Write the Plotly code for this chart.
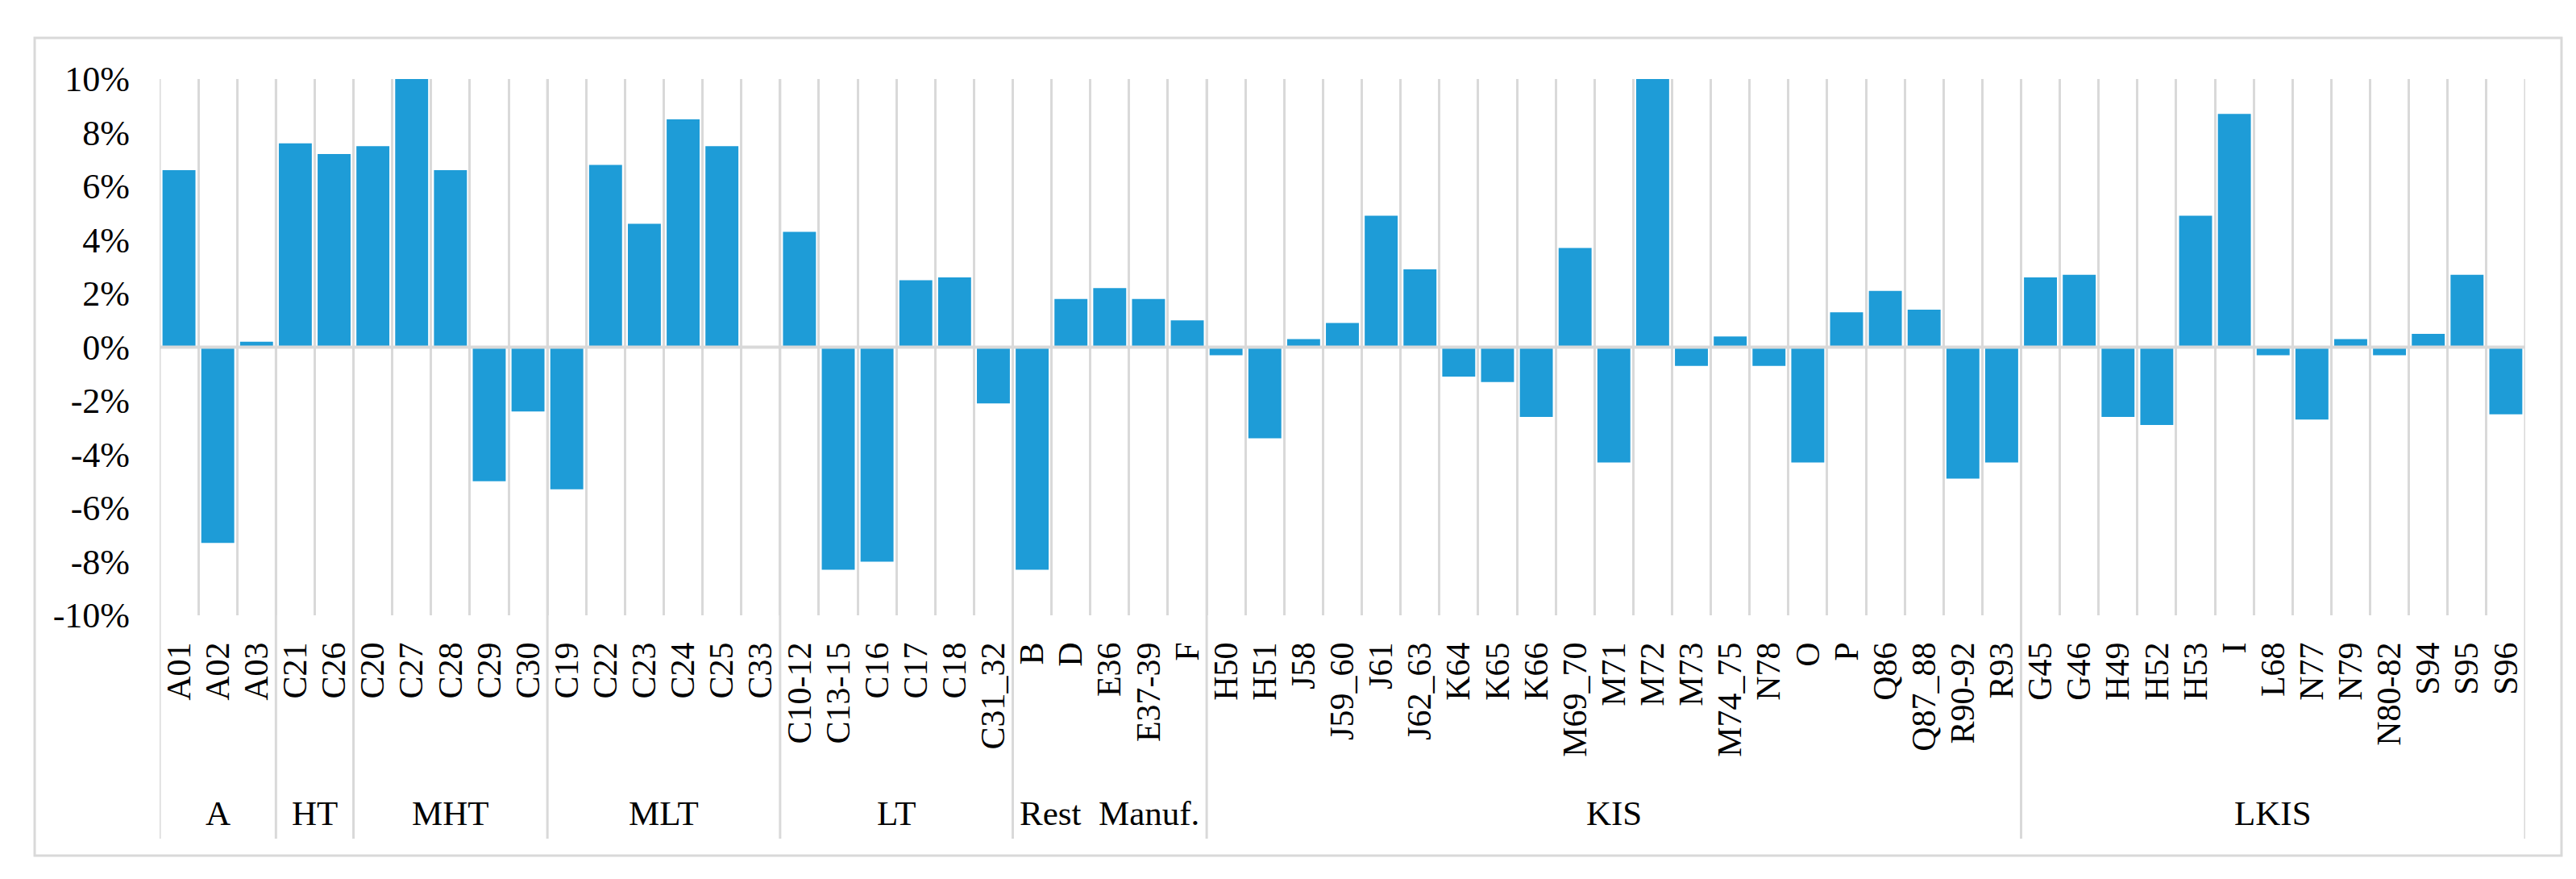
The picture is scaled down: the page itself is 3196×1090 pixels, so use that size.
import plotly.graph_objects as go

# sectors (x categories) and their groups
sectors = ['A01', 'A02', 'A03',
           'C21', 'C26',
           'C20', 'C27', 'C28', 'C29', 'C30',
           'C19', 'C22', 'C23', 'C24', 'C25', 'C33',
           'C10-12', 'C13-15', 'C16', 'C17', 'C18', 'C31_32',
           'B', 'D', 'E36', 'E37-39', 'F',
           'H50', 'H51', 'J58', 'J59_60', 'J61', 'J62_63', 'K64', 'K65', 'K66', 'M69_70',
           'M71', 'M72', 'M73', 'M74_75', 'N78', 'O', 'P', 'Q86', 'Q87_88', 'R90-92', 'R93',
           'G45', 'G46', 'H49', 'H52', 'H53', 'I', 'L68', 'N77', 'N79', 'N80-82', 'S94', 'S95', 'S96']

growth = [0.066, -0.073, 0.002,
          0.076, 0.072,
          0.075, 0.110, 0.066, -0.050, -0.024,
          -0.053, 0.068, 0.046, 0.085, 0.075, 0.0,
          0.043, -0.083, -0.080, 0.025, 0.026, -0.021,
          -0.083, 0.018, 0.022, 0.018, 0.010,
          -0.003, -0.034, 0.003, 0.009, 0.049, 0.029, -0.011, -0.013, -0.026, 0.037,
          -0.043, 0.110, -0.007, 0.004, -0.007, -0.043, 0.013, 0.021, 0.014, -0.049, -0.043,
          0.026, 0.027, -0.026, -0.029, 0.049, 0.087, -0.003, -0.027, 0.003, -0.003, 0.005, 0.027, -0.025]

group_names = ['A', 'HT', 'MHT', 'MLT', 'LT', 'Rest  Manuf.', 'KIS', 'LKIS']
group_sizes = [3, 2, 5, 6, 6, 5, 21, 13]

y_ticks = [-0.10, -0.08, -0.06, -0.04, -0.02, 0.0, 0.02, 0.04, 0.06, 0.08, 0.10]
y_labels = ['-10%', '-8%', '-6%', '-4%', '-2%', '0%', '2%', '4%', '6%', '8%', '10%']

# figure geometry in pixels
W, H = 3196, 1090
L, R, T, B = 190, 71, 90, 335
pw, ph = W - L - R, H - T - B


def px_x(p):
    return (p - L) / pw


def px_y(p):
    return (H - B - p) / ph


grey = '#d9d9d9'
font = 'Liberation Serif'

fig = go.Figure(go.Bar(x=sectors, y=growth, marker=dict(color='#1E9CD7', line=dict(width=0))))

shapes = []
annotations = []
start = 0
for name, n in zip(group_names, group_sizes):
    # group separator at the left boundary of each group
    shapes.append(dict(type='line', xref='x', yref='paper', x0=start - 0.5, x1=start - 0.5,
                       y0=1, y1=px_y(1032), line=dict(color=grey, width=3)))
    annotations.append(dict(text=name, xref='x', yref='paper', x=start + (n - 1) / 2, y=px_y(1000),
                            showarrow=False, yanchor='middle', xanchor='center',
                            font=dict(family=font, size=43, color='black')))
    start += n
shapes.append(dict(type='line', xref='x', yref='paper', x0=start - 0.5, x1=start - 0.5,
                   y0=1, y1=px_y(1032), line=dict(color=grey, width=3)))
# zero line over the bars
shapes.append(dict(type='line', xref='paper', yref='y', x0=0, x1=1, y0=0, y1=0,
                   line=dict(color=grey, width=4), layer='above'))
# outer chart border
shapes.append(dict(type='rect', xref='paper', yref='paper', x0=px_x(35), x1=px_x(3170),
                   y0=px_y(1053), y1=px_y(39), line=dict(color=grey, width=3)))

fig.update_layout(
    width=W, height=H,
    margin=dict(l=L, r=R, t=T, b=B),
    paper_bgcolor='white', plot_bgcolor='white',
    bargap=0.15,
    showlegend=False,
    shapes=shapes,
    annotations=annotations,
    font=dict(family=font, size=42, color='black'),
)
fig.update_xaxes(type='category', range=[-0.5, len(sectors) - 0.5], tickmode='linear', dtick=1,
                 tickangle=-90, tickson='boundaries', showgrid=True, gridcolor=grey, gridwidth=3,
                 ticks='', showline=False, zeroline=False, ticklabelstandoff=24,
                 tickfont=dict(family=font, size=42, color='black'))
fig.update_yaxes(range=[-0.10, 0.10], tickmode='array', tickvals=y_ticks, ticktext=y_labels,
                 showgrid=False, zeroline=False, showline=False, ticks='', ticklabelstandoff=36,
                 tickfont=dict(family=font, size=44, color='black'))

fig.write_html('out.html')
